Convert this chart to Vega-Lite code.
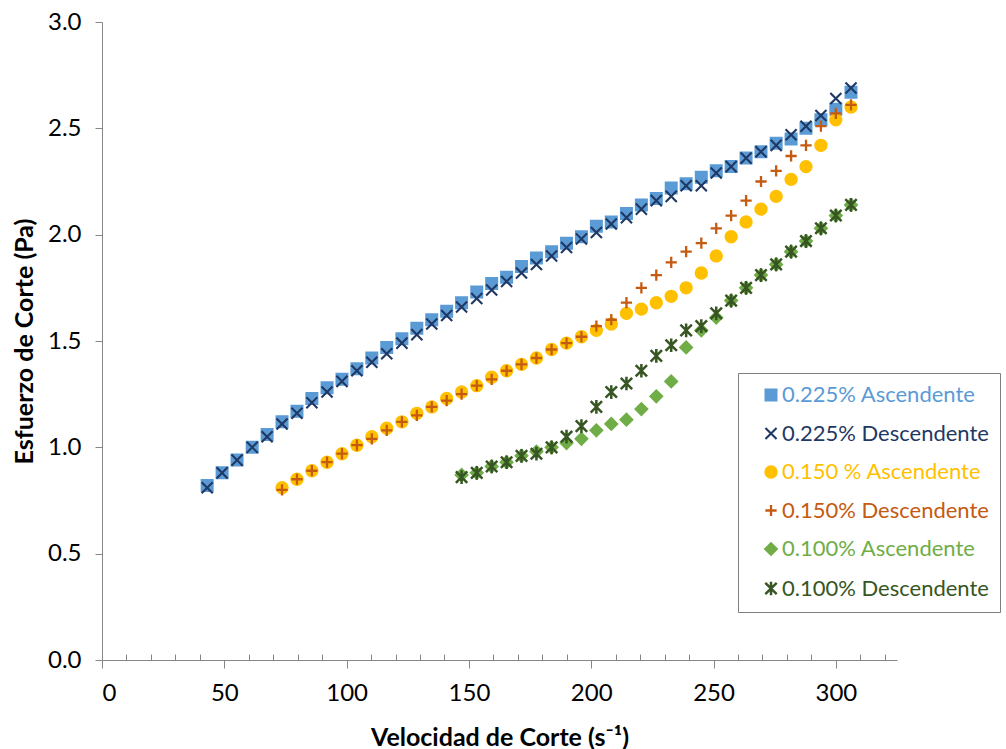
{
  "$schema": "https://vega.github.io/schema/vega-lite/v6.json",
  "width": 795,
  "height": 638,
  "autosize": {"type": "none"},
  "padding": {"left": 102, "top": 22, "right": 109, "bottom": 89},
  "background": "white",
  "config": {
    "view": {"stroke": null},
    "font": "Lato",
    "legend": {
      "orient": "none", "legendX": 636, "legendY": 351, "title": null,
      "strokeColor": "#7F7F7F", "fillColor": "white",
      "padding": 11, "symbolOffset": 11, "labelOffset": 0, "rowPadding": 16.5,
      "symbolSize": 85, "symbolStrokeWidth": 2,
      "labelFontSize": 22, "labelLimit": 400,
      "labelColor": {"expr": "scale('color', datum.value)"}
    }
  },
  "data": {"values": [
    {"x": 43.0, "a225": 0.82, "d225": 0.81},
    {"x": 49.1, "a225": 0.88, "d225": 0.88},
    {"x": 55.2, "a225": 0.94, "d225": 0.94},
    {"x": 61.4, "a225": 1.00, "d225": 1.00},
    {"x": 67.5, "a225": 1.06, "d225": 1.05},
    {"x": 73.6, "a225": 1.12, "d225": 1.11, "a150": 0.81, "d150": 0.80},
    {"x": 79.7, "a225": 1.17, "d225": 1.16, "a150": 0.85, "d150": 0.85},
    {"x": 85.8, "a225": 1.23, "d225": 1.21, "a150": 0.89, "d150": 0.89},
    {"x": 92.0, "a225": 1.28, "d225": 1.26, "a150": 0.93, "d150": 0.93},
    {"x": 98.1, "a225": 1.32, "d225": 1.31, "a150": 0.97, "d150": 0.97},
    {"x": 104.2, "a225": 1.37, "d225": 1.36, "a150": 1.01, "d150": 1.01},
    {"x": 110.3, "a225": 1.42, "d225": 1.40, "a150": 1.05, "d150": 1.04},
    {"x": 116.4, "a225": 1.47, "d225": 1.44, "a150": 1.09, "d150": 1.08},
    {"x": 122.6, "a225": 1.51, "d225": 1.49, "a150": 1.12, "d150": 1.12},
    {"x": 128.7, "a225": 1.56, "d225": 1.53, "a150": 1.16, "d150": 1.15},
    {"x": 134.8, "a225": 1.60, "d225": 1.58, "a150": 1.19, "d150": 1.19},
    {"x": 140.9, "a225": 1.64, "d225": 1.62, "a150": 1.23, "d150": 1.22},
    {"x": 147.0, "a225": 1.68, "d225": 1.66, "a150": 1.26, "d150": 1.25, "a100": 0.87, "d100": 0.86},
    {"x": 153.2, "a225": 1.73, "d225": 1.70, "a150": 1.29, "d150": 1.29, "a100": 0.88, "d100": 0.88},
    {"x": 159.3, "a225": 1.77, "d225": 1.74, "a150": 1.33, "d150": 1.32, "a100": 0.91, "d100": 0.91},
    {"x": 165.4, "a225": 1.80, "d225": 1.78, "a150": 1.36, "d150": 1.36, "a100": 0.93, "d100": 0.93},
    {"x": 171.5, "a225": 1.85, "d225": 1.82, "a150": 1.39, "d150": 1.39, "a100": 0.96, "d100": 0.96},
    {"x": 177.6, "a225": 1.89, "d225": 1.86, "a150": 1.42, "d150": 1.42, "a100": 0.98, "d100": 0.97},
    {"x": 183.8, "a225": 1.92, "d225": 1.90, "a150": 1.46, "d150": 1.46, "a100": 1.00, "d100": 1.00},
    {"x": 189.9, "a225": 1.96, "d225": 1.94, "a150": 1.49, "d150": 1.49, "a100": 1.02, "d100": 1.05},
    {"x": 196.0, "a225": 1.99, "d225": 1.98, "a150": 1.52, "d150": 1.52, "a100": 1.04, "d100": 1.10},
    {"x": 202.1, "a225": 2.04, "d225": 2.01, "a150": 1.55, "d150": 1.57, "a100": 1.08, "d100": 1.19},
    {"x": 208.2, "a225": 2.06, "d225": 2.05, "a150": 1.58, "d150": 1.60, "a100": 1.11, "d100": 1.26},
    {"x": 214.4, "a225": 2.10, "d225": 2.08, "a150": 1.63, "d150": 1.68, "a100": 1.13, "d100": 1.30},
    {"x": 220.5, "a225": 2.14, "d225": 2.12, "a150": 1.65, "d150": 1.75, "a100": 1.18, "d100": 1.36},
    {"x": 226.6, "a225": 2.17, "d225": 2.16, "a150": 1.68, "d150": 1.81, "a100": 1.24, "d100": 1.43},
    {"x": 232.7, "a225": 2.22, "d225": 2.18, "a150": 1.71, "d150": 1.87, "a100": 1.31, "d100": 1.48},
    {"x": 238.8, "a225": 2.24, "d225": 2.23, "a150": 1.75, "d150": 1.92, "a100": 1.47, "d100": 1.55},
    {"x": 245.0, "a225": 2.27, "d225": 2.23, "a150": 1.82, "d150": 1.96, "a100": 1.55, "d100": 1.57},
    {"x": 251.1, "a225": 2.30, "d225": 2.29, "a150": 1.90, "d150": 2.03, "a100": 1.61, "d100": 1.63},
    {"x": 257.2, "a225": 2.32, "d225": 2.32, "a150": 1.99, "d150": 2.09, "a100": 1.69, "d100": 1.69},
    {"x": 263.3, "a225": 2.36, "d225": 2.36, "a150": 2.06, "d150": 2.16, "a100": 1.75, "d100": 1.75},
    {"x": 269.4, "a225": 2.39, "d225": 2.39, "a150": 2.12, "d150": 2.25, "a100": 1.81, "d100": 1.81},
    {"x": 275.6, "a225": 2.43, "d225": 2.42, "a150": 2.18, "d150": 2.30, "a100": 1.86, "d100": 1.86},
    {"x": 281.7, "a225": 2.45, "d225": 2.47, "a150": 2.26, "d150": 2.37, "a100": 1.92, "d100": 1.92},
    {"x": 287.8, "a225": 2.50, "d225": 2.51, "a150": 2.32, "d150": 2.42, "a100": 1.97, "d100": 1.97},
    {"x": 293.9, "a225": 2.54, "d225": 2.56, "a150": 2.42, "d150": 2.51, "a100": 2.03, "d100": 2.03},
    {"x": 300.0, "a225": 2.59, "d225": 2.64, "a150": 2.54, "d150": 2.57, "a100": 2.09, "d100": 2.09},
    {"x": 306.2, "a225": 2.67, "d225": 2.69, "a150": 2.60, "d150": 2.61, "a100": 2.14, "d100": 2.14}
  ]},
  "transform": [
    {"fold": ["a225", "d225", "a150", "d150", "a100", "d100"], "as": ["serie", "esfuerzo"]},
    {"filter": "isValid(datum.esfuerzo)"}
  ],
  "mark": {"type": "point", "filled": true, "opacity": 1},
  "encoding": {
    "x": {
      "field": "x", "type": "quantitative",
      "scale": {"domain": [0, 325], "nice": false, "zero": false},
      "axis": {
        "title": "Velocidad de Corte (s⁻¹)",
        "titleFontSize": 25, "titleFontWeight": "bold", "titleColor": "#000000", "titlePadding": 20,
        "values": [0,10,20,30,40,50,60,70,80,90,100,110,120,130,140,150,160,170,180,190,200,210,220,230,240,250,260,270,280,290,300,310,320],
        "labelExpr": "datum.value % 50 === 0 ? datum.label : ''",
        "labelOverlap": false,
        "labelFontSize": 24, "labelColor": "#000000", "labelPadding": 13,
        "tickSize": {"condition": {"test": "datum.value % 50 === 0", "value": 8}, "value": -6},
        "tickColor": "#868686", "domainColor": "#868686", "grid": false
      }
    },
    "y": {
      "field": "esfuerzo", "type": "quantitative",
      "scale": {"domain": [0, 3], "nice": false},
      "axis": {
        "title": "Esfuerzo de Corte (Pa)",
        "titleFontSize": 25, "titleFontWeight": "bold", "titleColor": "#000000", "titlePadding": 10,
        "values": [0, 0.5, 1, 1.5, 2, 2.5, 3], "format": ".1f",
        "labelFontSize": 24, "labelColor": "#000000", "labelPadding": 14,
        "tickSize": 7, "tickColor": "#868686", "domainColor": "#868686", "grid": false
      }
    },
    "color": {
      "field": "serie", "type": "nominal",
      "scale": {"domain": ["a225", "d225", "a150", "d150", "a100", "d100"], "range": ["#5B9BD5", "#1F3864", "#FFC000", "#C55A11", "#70AD47", "#375623"]},
      "legend": {
        "labelColor": {"expr": "scale('color', datum.value)"},
        "labelExpr": "datum.value == 'a225' ? '0.225% Ascendente' : datum.value == 'd225' ? '0.225% Descendente' : datum.value == 'a150' ? '0.150 % Ascendente' : datum.value == 'd150' ? '0.150% Descendente' : datum.value == 'a100' ? '0.100% Ascendente' : '0.100% Descendente'",
        "encode": {
          "legend": {"strokeWidth": {"value": 2}},
          "labels": {"fill": {"value": {"expr": "scale('color', datum.value)"}}}
        }
      }
    },
    "stroke": {
      "field": "serie", "type": "nominal",
      "scale": {"domain": ["a225", "d225", "a150", "d150", "a100", "d100"], "range": ["#5B9BD5", "#1F3864", "#FFC000", "#C55A11", "#70AD47", "#375623"]},
      "legend": {
        "labelColor": {"expr": "scale('color', datum.value)"},
        "labelExpr": "datum.value == 'a225' ? '0.225% Ascendente' : datum.value == 'd225' ? '0.225% Descendente' : datum.value == 'a150' ? '0.150 % Ascendente' : datum.value == 'd150' ? '0.150% Descendente' : datum.value == 'a100' ? '0.100% Ascendente' : '0.100% Descendente'",
        "encode": {
          "legend": {"strokeWidth": {"value": 2}},
          "labels": {"fill": {"value": {"expr": "scale('color', datum.value)"}}}
        }
      }
    },
    "shape": {
      "field": "serie", "type": "nominal",
      "scale": {"domain": ["a225", "d225", "a150", "d150", "a100", "d100"], "range": ["square", "M-1,-1L1,1M-1,1L1,-1", "circle", "M-1,0L1,0M0,-1L0,1", "diamond", "M-1,-1L1,1M-1,1L1,-1M0,-1.2L0,1.2"]},
      "legend": {
        "labelColor": {"expr": "scale('color', datum.value)"},
        "labelExpr": "datum.value == 'a225' ? '0.225% Ascendente' : datum.value == 'd225' ? '0.225% Descendente' : datum.value == 'a150' ? '0.150 % Ascendente' : datum.value == 'd150' ? '0.150% Descendente' : datum.value == 'a100' ? '0.100% Ascendente' : '0.100% Descendente'",
        "encode": {
          "legend": {"strokeWidth": {"value": 2}},
          "labels": {"fill": {"value": {"expr": "scale('color', datum.value)"}}}
        }
      }
    },
    "size": {
      "field": "serie", "type": "nominal",
      "scale": {"domain": ["a225", "d225", "a150", "d150", "a100", "d100"], "range": [121, 130, 180, 180, 150, 140]},
      "legend": null
    },
    "strokeWidth": {
      "field": "serie", "type": "nominal",
      "scale": {"domain": ["a225", "d225", "a150", "d150", "a100", "d100"], "range": [2, 2.5, 2, 2, 1.5, 2.5]},
      "legend": null
    }
  }
}
